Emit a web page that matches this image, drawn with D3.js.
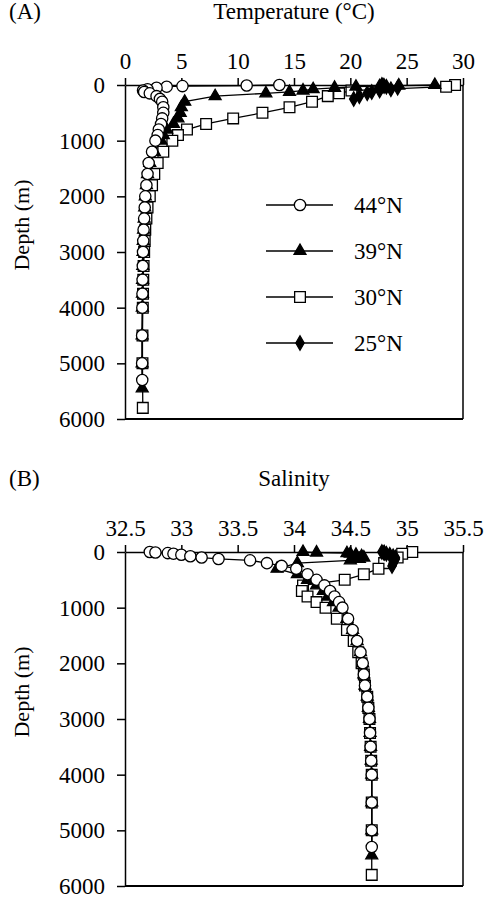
<!DOCTYPE html>
<html>
<head>
<meta charset="utf-8">
<script src="https://cdn.jsdelivr.net/npm/d3@7"></script>
<style>
  body { margin: 0; background: #fff; }
  svg text { font-family: "Liberation Serif", "Times New Roman", serif; fill: #000; }
</style>
</head>
<body>
<svg id="chart" width="487" height="898"></svg>
<script>
// depth levels (m) for each station
const depth44 = [0, 10, 20, 30, 50, 75, 100, 125, 150, 200, 250, 300, 400, 500, 600, 700, 800, 900, 1000, 1200, 1400, 1600, 1800, 2000, 2200, 2400, 2600, 2800, 3000, 3250, 3500, 3750, 4000, 4500, 5000, 5300];
const depth39 = [0, 10, 20, 30, 50, 75, 100, 125, 150, 200, 300, 400, 500, 600, 700, 800, 900, 1000, 1200, 1400, 1600, 1800, 2000, 2200, 2400, 2600, 2800, 3000, 3250, 3500, 3750, 4000, 4500, 5000, 5450];
const depth30 = [0, 30, 100, 150, 200, 300, 400, 500, 600, 700, 800, 900, 1000, 1200, 1400, 1600, 1800, 2000, 2200, 2400, 2600, 2800, 3000, 3250, 3500, 3750, 4000, 4500, 5000, 5800];
const depth25 = [0, 10, 20, 30, 50, 75, 100, 125, 150, 200, 250];

// temperature (deg C)
const temp44 = [13.7, 10.8, 5.1, 3.7, 2.8, 2.0, 1.6, 1.7, 2.2, 2.8, 3.1, 3.3, 3.4, 3.4, 3.3, 3.2, 3.0, 2.9, 2.7, 2.4, 2.1, 2.0, 1.9, 1.8, 1.75, 1.7, 1.65, 1.62, 1.6, 1.58, 1.56, 1.55, 1.54, 1.52, 1.52, 1.53];
const temp39 = [27.5, 24.3, 22.6, 20.5, 18.6, 16.7, 15.8, 14.6, 12.5, 8.0, 5.3, 5.0, 4.9, 4.7, 4.3, 3.7, 3.4, 3.2, 2.6, 2.2, 2.0, 1.9, 1.8, 1.75, 1.7, 1.65, 1.62, 1.6, 1.58, 1.56, 1.55, 1.54, 1.52, 1.52, 1.53];
const temp30 = [29.3, 28.5, 20.1, 19.0, 18.0, 16.6, 14.6, 12.2, 9.6, 7.2, 5.5, 4.7, 4.2, 3.4, 2.9, 2.6, 2.4, 2.2, 2.0, 1.9, 1.8, 1.75, 1.7, 1.65, 1.62, 1.6, 1.58, 1.55, 1.55, 1.58];
const temp25 = [22.8, 22.9, 23.0, 23.2, 24.2, 23.6, 22.6, 21.9, 21.5, 20.8, 20.3];

// salinity
const sal44 = [32.72, 32.77, 32.88, 32.93, 33.0, 33.08, 33.18, 33.33, 33.61, 33.76, 33.89, 34.02, 34.12, 34.2, 34.27, 34.32, 34.36, 34.4, 34.43, 34.48, 34.52, 34.56, 34.59, 34.61, 34.62, 34.63, 34.65, 34.66, 34.67, 34.675, 34.68, 34.685, 34.69, 34.69, 34.69, 34.69];
const sal39 = [34.08, 34.2, 34.47, 34.5, 34.55, 34.6, 34.62, 34.58, 34.5, 34.03, 33.85, 34.03, 34.12, 34.2, 34.26, 34.3, 34.35, 34.4, 34.47, 34.52, 34.56, 34.59, 34.61, 34.62, 34.63, 34.65, 34.66, 34.67, 34.675, 34.68, 34.685, 34.69, 34.69, 34.69, 34.69];
const sal30 = [35.05, 34.96, 34.92, 34.86, 34.8, 34.75, 34.62, 34.45, 34.08, 34.07, 34.12, 34.2, 34.28, 34.38, 34.47, 34.53, 34.57, 34.6, 34.62, 34.63, 34.65, 34.66, 34.67, 34.675, 34.68, 34.685, 34.69, 34.69, 34.69, 34.69];
const sal25 = [34.78, 34.8, 34.8, 34.82, 34.85, 34.88, 34.9, 34.9, 34.89, 34.88, 34.87];

const stations = ['44°N', '39°N', '30°N', '25°N'];
const tempTicks = [0, 5, 10, 15, 20, 25, 30];
const salTicks = [32.5, 33, 33.5, 34, 34.5, 35, 35.5];
const depthTicks = [0, 1000, 2000, 3000, 4000, 5000, 6000];

const svg = d3.select('#chart');

// marker shapes per station
const shapes = {
    '44°N': { sym: d3.symbolCircle, size: 100, fill: '#fff' },
    '39°N': { sym: d3.symbolTriangle, size: 62, fill: '#000' },
    '30°N': { sym: d3.symbolSquare, size: 115, fill: '#fff' },
    '25°N': { sym: d3.symbolDiamond, size: 60, fill: '#000' }
};

function drawPanel (top, letter, title, domain, ticks, series) {
    const x = d3.scaleLinear().domain(domain).range([125, 463]);
    const y = d3.scaleLinear().domain([0, 6000]).range([top, top + 334]);
    const g = svg.append('g');

    g.append('text').attr('x', 9).attr('y', top - 66).attr('font-size', 23).text(letter);
    g.append('text').attr('x', 294).attr('y', top - 66).attr('font-size', 23)
        .attr('text-anchor', 'middle').text(title);
    g.append('text').attr('font-size', 22).attr('text-anchor', 'middle')
        .attr('transform', `translate(29,${top + 140}) rotate(-90)`).text('Depth (m)');

    // frame: right and bottom borders
    g.append('line').attr('x1', x.range()[1]).attr('x2', x.range()[1])
        .attr('y1', y(0)).attr('y2', y(6000)).attr('stroke', '#000').attr('stroke-width', 1.5);
    g.append('line').attr('x1', x.range()[0]).attr('x2', x.range()[1])
        .attr('y1', y(6000)).attr('y2', y(6000)).attr('stroke', '#000').attr('stroke-width', 1.8);

    const xAxis = d3.axisTop(x).tickValues(ticks).tickSize(7).tickSizeOuter(0).tickPadding(9)
        .tickFormat(d => String(d));
    const yAxis = d3.axisLeft(y).tickValues(depthTicks).tickSize(8).tickSizeOuter(0).tickPadding(12)
        .tickFormat(d3.format('d'));
    const gx = g.append('g').attr('transform', `translate(0,${y(0)})`).call(xAxis);
    const gy = g.append('g').attr('transform', `translate(${x.range()[0]},0)`).call(yAxis);
    [gx, gy].forEach(a => {
        a.selectAll('path,line').attr('stroke', '#000').attr('stroke-width', 1.5);
        a.selectAll('text').attr('font-size', 23).style('font-family', '"Liberation Serif", serif');
    });

    // profiles: draw 30N, 25N, 39N then 44N on top
    ['30°N', '25°N', '39°N', '44°N'].forEach(name => {
        const s = series[name];
        const pts = s.depth.map((d, i) => [x(s.val[i]), y(d)]);
        g.append('path').attr('d', d3.line()(pts)).attr('fill', 'none')
            .attr('stroke', '#000').attr('stroke-width', 1.3);
        const sh = shapes[name];
        g.selectAll(null).data(pts).join('path')
            .attr('transform', p => `translate(${p[0]},${p[1]})`)
            .attr('d', d3.symbol().type(sh.sym).size(sh.size))
            .attr('fill', sh.fill).attr('stroke', '#000').attr('stroke-width', 1.3);
    });
}

drawPanel(85, '(A)', 'Temperature (°C)', [0, 30], tempTicks, {
    '44°N': { depth: depth44, val: temp44 },
    '39°N': { depth: depth39, val: temp39 },
    '30°N': { depth: depth30, val: temp30 },
    '25°N': { depth: depth25, val: temp25 }
});
drawPanel(552, '(B)', 'Salinity', [32.5, 35.5], salTicks, {
    '44°N': { depth: depth44, val: sal44 },
    '39°N': { depth: depth39, val: sal39 },
    '30°N': { depth: depth30, val: sal30 },
    '25°N': { depth: depth25, val: sal25 }
});

// legend in panel A
const legend = svg.append('g');
stations.forEach((name, i) => {
    const ly = 205 + i * 46;
    legend.append('line').attr('x1', 266).attr('x2', 333).attr('y1', ly).attr('y2', ly)
        .attr('stroke', '#000').attr('stroke-width', 1.3);
    const sh = shapes[name];
    legend.append('path').attr('transform', `translate(300,${ly})`)
        .attr('d', d3.symbol().type(sh.sym).size(sh.size))
        .attr('fill', sh.fill).attr('stroke', '#000').attr('stroke-width', 1.3);
    legend.append('text').attr('x', 354).attr('y', ly + 8).attr('font-size', 23).text(name);
});
</script>
</body>
</html>
